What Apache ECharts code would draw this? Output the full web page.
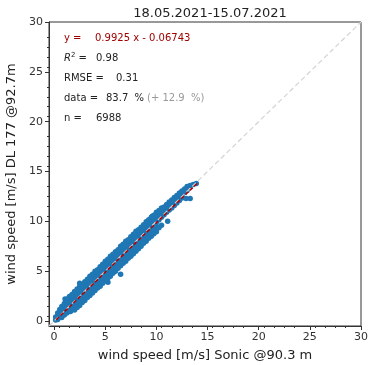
<!DOCTYPE html>
<html>
<head>
<meta charset="utf-8">
<script src="https://cdn.jsdelivr.net/npm/echarts@6/dist/echarts.min.js"></script>
<style>html,body{margin:0;padding:0;background:#fff}#c{width:368px;height:365px}</style>
</head>
<body>
<div id="c"></div>
<script>
// Data (representative points of the dense cloud)
var sonic = [
0.15,0.15, 0.35,0.35,0.35, 0.55,0.55,0.55, 0.75,0.75,0.75,0.75,
1.00,1.00,1.00,1.00,1.07, 1.25,1.25,1.25,1.25, 1.50,1.50,1.50,1.50, 1.75,1.75,1.75,1.75,
2.00,2.00,2.00,2.00, 2.25,2.25,2.25,2.25, 2.50,2.50,2.50,2.50,2.50, 2.75,2.75,2.75,2.75,
3.00,3.00,3.00,3.00, 3.25,3.25,3.25,3.25, 3.50,3.50,3.50,3.50, 3.75,3.75,3.75,3.75,
4.00,4.00,4.00,4.00, 4.25,4.25,4.25,4.25, 4.50,4.50,4.50,4.50, 4.75,4.75,4.75,4.75,
5.00,5.00,5.00,5.00, 5.25,5.25,5.25,5.25,5.26, 5.50,5.50,5.50,5.50, 5.75,5.75,5.75,5.75,
6.00,6.00,6.00,6.00, 6.25,6.25,6.25,6.25, 6.50,6.50,6.50,6.50,6.50, 6.75,6.75,6.75,6.75,
7.00,7.00,7.00,7.00, 7.25,7.25,7.25,7.25, 7.50,7.50,7.50,7.50, 7.75,7.75,7.75,7.75,
8.00,8.00,8.00,8.00, 8.25,8.25,8.25,8.25, 8.50,8.50,8.50,8.50, 8.75,8.75,8.75,8.75,
9.00,9.00,9.00,9.00, 9.25,9.25,9.25,9.25, 9.50,9.50,9.50,9.50, 9.75,9.75,9.75,9.75,
10.00,10.00,10.00,10.00, 10.25,10.25,10.25, 10.50,10.50,10.50, 10.75,10.75,10.75,
11.00,11.00,11.00,11.10, 11.25,11.25,11.25, 11.50,11.50,11.50, 11.75,11.75,11.75,
12.00,12.00,12.00, 12.25,12.25,12.25, 12.50,12.50,12.50, 12.75,12.75, 12.90,
13.00,13.00, 13.30,13.30, 13.60, 13.90,
1.40,2.10,2.90,3.60,4.40,5.10,5.90,6.60,7.30,8.10,8.90,9.60,
1.60,2.40,3.10,3.90,4.60,5.40,6.10,6.90,7.60,8.40,9.10,9.90,
1.50,2.00,2.50,3.00,3.50,4.00,4.50,5.00,5.50,6.00,6.50,7.00,7.50,8.00,8.50,9.00,9.50,10.00,10.50,
2.00,2.50,3.00,3.50,4.00,4.50,5.00,5.50,6.00,6.50,7.00,7.50,8.00,8.50,9.00,9.50,10.00,10.50,
1.75,2.25,2.75,3.25,3.75,4.25,4.75,5.25,5.75,6.25,6.75,7.25,7.75,8.25,8.75,9.25,9.75,10.25,
2.25,2.75,3.25,3.75,4.25,4.75,5.25,5.75,6.25,6.75,7.25,7.75,8.25,8.75,9.25,9.75,10.25
];
var lidar = [
0.40,0.10, 0.80,0.40,0.15, 1.15,0.75,0.40, 1.45,1.05,0.65,0.35,
1.75,1.35,0.95,0.60,2.20, 2.00,1.60,1.20,0.80, 2.30,1.85,1.45,1.05, 2.55,2.10,1.70,1.30,
2.80,2.35,1.95,1.55, 3.00,2.60,2.20,1.80, 3.30,2.90,2.45,2.05,3.80, 3.55,3.15,2.70,2.30,
3.75,3.35,2.95,2.55, 4.05,3.60,3.20,2.80, 4.30,3.85,3.45,3.00, 4.50,4.10,3.70,3.30,
4.80,4.35,3.95,3.55, 5.05,4.60,4.20,3.75, 5.30,4.85,4.45,4.00, 5.50,5.10,4.70,4.25,
5.80,5.35,4.95,4.50, 6.05,5.60,5.20,4.75,3.90, 6.30,5.85,5.45,5.00, 6.55,6.10,5.65,5.25,
6.75,6.35,5.90,5.45, 7.00,6.60,6.15,5.70, 7.30,6.85,6.40,5.95,4.70, 7.55,7.10,6.65,6.20,
7.80,7.35,6.90,6.45, 8.00,7.60,7.15,6.70, 8.30,7.85,7.40,6.95, 8.55,8.10,7.65,7.20,
8.80,8.35,7.90,7.40, 9.05,8.60,8.15,7.70, 9.25,8.85,8.40,7.95, 9.50,9.10,8.65,8.20,
9.75,9.30,8.90,8.45, 10.00,9.55,9.15,8.70, 10.25,9.80,9.40,8.95, 10.50,10.05,9.65,9.25,
10.75,10.30,9.90,9.50, 10.95,10.55,10.15, 11.20,10.80,10.40, 11.45,11.05,10.65,
11.70,11.30,10.90,10.00, 11.95,11.55,11.15, 12.15,11.75,11.35, 12.40,12.00,11.60,
12.60,12.25,11.85, 12.85,12.45,12.10, 13.05,12.70,12.35, 13.25,12.90, 12.30,
13.50,13.10, 13.60,12.30, 13.70, 13.80,
2.25,2.70,3.50,4.35,4.95,5.90,6.55,7.50,8.00,8.95,9.65,10.50,
0.95,1.80,2.45,3.20,3.85,4.60,5.30,6.10,6.75,7.55,8.30,9.05,
2.45,2.95,3.50,3.95,4.50,5.00,5.45,6.00,6.50,6.95,7.50,8.00,8.45,9.00,9.40,9.95,10.40,10.90,11.35,
1.10,1.55,2.05,2.55,3.05,3.50,4.05,4.50,5.00,5.55,6.00,6.50,7.00,7.50,8.00,8.50,8.95,9.60,
2.65,3.20,3.65,4.20,4.70,5.15,5.70,6.20,6.70,7.15,7.70,8.15,8.70,9.15,9.65,10.15,10.60,11.10,
1.35,1.85,2.35,2.80,3.30,3.80,4.30,4.80,5.30,5.80,6.30,6.75,7.25,7.80,8.30,8.75,9.35
];
var fitSlope = 0.9925, fitIntercept = -0.06743;
var fitRange = [0.2, 14.0];
var identityRange = [-0.5, 30];
var axisTicks = [0, 5, 10, 15, 20, 25, 30];
var titleText = '18.05.2021-15.07.2021';

var pts = sonic.map(function (v, i) { return [v, lidar[i]]; });
var fitPts = fitRange.map(function (x) { return [x, fitSlope * x + fitIntercept]; });
var idPts = identityRange.map(function (x) { return [x, x]; });

var chart = echarts.init(document.getElementById('c'), null, {renderer: 'canvas'});
var fontF = 'DejaVu Sans';
function axisCfg(name, gap) {
  return {
    type: 'value', min: -0.5, max: 30, interval: 5,
    name: name, nameLocation: 'middle', nameGap: gap,
    nameTextStyle: {fontFamily: fontF, fontSize: 13, color: '#222'},
    axisLine: {show: true, onZero: false, lineStyle: {color: '#333', width: 1}},
    axisTick: {show: true, length: 4, lineStyle: {color: '#333'},
      customValues: axisTicks},
    minorTick: {show: true, splitNumber: 5, length: 2, lineStyle: {color: '#333'}},
    axisLabel: {fontFamily: fontF, fontSize: 11, color: '#333', margin: 6,
      customValues: axisTicks},
    splitLine: {show: false}
  };
}
var ax = axisCfg('wind speed [m/s] Sonic @90.3 m', 23);
var ay = axisCfg('wind speed [m/s] DL 177 @92.7m', 31);

var F = '10px DejaVu Sans';
function T(x, y, text, color) {
  return {type: 'text', x: x, y: y, style: {text: text, fill: color || '#222', font: F, verticalAlign: 'middle'}};
}

chart.setOption({
  animation: false,
  backgroundColor: '#fff',
  title: {text: titleText, left: 205, top: 2, textAlign: 'center',
    textStyle: {fontFamily: fontF, fontSize: 13, fontWeight: 'normal', color: '#222'}},
  grid: {left: 49, right: 7, top: 22, bottom: 39, show: true, borderColor: '#333', borderWidth: 1,
    containLabel: false, outerBoundsMode: 'none'},
  xAxis: ax,
  yAxis: ay,
  series: [
    {type: 'scatter', data: pts, symbolSize: 5.5, z: 2,
      itemStyle: {color: '#1f77b4', opacity: 1}},
    {type: 'line', data: idPts, symbol: 'none', z: 3,
      lineStyle: {color: '#d3d3d3', width: 1.2, type: [5, 3]}},
    {type: 'line', data: fitPts, symbol: 'none', z: 4,
      lineStyle: {color: '#b40000', width: 1.5, type: [4, 2]}}
  ],
  graphic: [
    T(64, 38, 'y =', '#a00000'),
    T(95, 38, '0.9925 x - 0.06743', '#a00000'),
    {type: 'text', x: 64, y: 58, style: {text: '{i|R}{s|2}{n| =}', verticalAlign: 'middle',
      rich: {i: {fontFamily: fontF, fontSize: 10, fontStyle: 'italic', fill: '#222'},
             s: {fontFamily: fontF, fontSize: 7, fill: '#222', verticalAlign: 'top', padding: [0, 0, 5, 0]},
             n: {fontFamily: fontF, fontSize: 10, fill: '#222'}}}},
    T(96, 58, '0.98'),
    T(64, 78, 'RMSE ='),
    T(116, 78, '0.31'),
    T(64, 98, 'data ='),
    T(106, 98, '83.7  %'),
    T(147, 98, '(+ 12.9  %)', '#999'),
    T(64, 118, 'n ='),
    T(96, 118, '6988')
  ]
});
</script>
</body>
</html>
